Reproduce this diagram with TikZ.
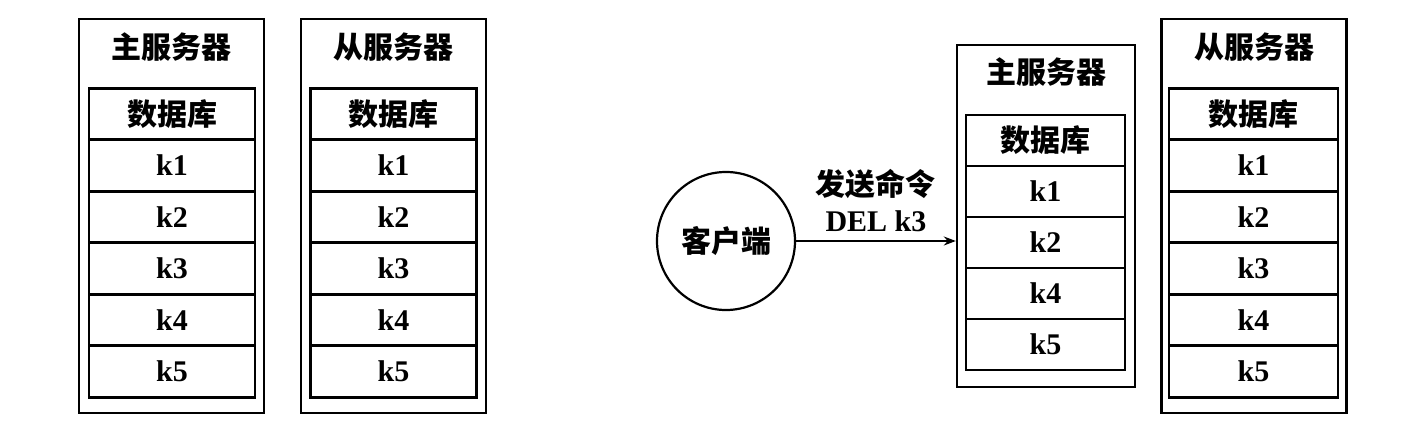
\documentclass[tikz,border=0pt]{standalone}
\usepackage{fontspec}
\setmainfont{Liberation Serif}
\newfontfamily\cjk{Noto Sans CJK SC}
\usetikzlibrary{positioning,arrows.meta}

\begin{document}
\begin{tikzpicture}[x=0.5pt,y=-0.5pt,
	server/.style={draw,line width=1.2pt,minimum width=92.5pt,minimum height=197pt,inner sep=0pt},
	title/.style={font=\fontsize{15}{18}\selectfont\cjk\bfseries},
	cell/.style={draw,line width=1.4pt,outer sep=0pt,minimum width=83pt,minimum height=25.75pt,inner sep=0pt,font=\fontsize{15}{18}\selectfont\bfseries},
	dbcell/.style={cell,font=\fontsize{15}{18}\selectfont\cjk\bfseries},
	client/.style={circle,draw,line width=1.1pt,minimum size=69pt,inner sep=0pt,font=\fontsize{15}{18}\selectfont\cjk\bfseries}]
	\useasboundingbox (0,0) rectangle (1404,428);
	% before: master
	\node [server] (m1) at (171.5,216) {};
	\node [title] (m1t) at (171.5,47) {主服务器};
	\node [dbcell] (m1db) at (172,114) {数据库};
	\node [cell,below=0pt of m1db] (m1k1) {k1};
	\node [cell,below=0pt of m1k1] (m1k2) {k2};
	\node [cell,below=0pt of m1k2] (m1k3) {k3};
	\node [cell,below=0pt of m1k3] (m1k4) {k4};
	\node [cell,below=0pt of m1k4] (m1k5) {k5};
	% before: slave
	\node [server] (s1) at (393.5,216) {};
	\node [title] (s1t) at (393.5,47) {从服务器};
	\node [dbcell] (s1db) at (393.5,114) {数据库};
	\node [cell,below=0pt of s1db] (s1k1) {k1};
	\node [cell,below=0pt of s1k1] (s1k2) {k2};
	\node [cell,below=0pt of s1k2] (s1k3) {k3};
	\node [cell,below=0pt of s1k3] (s1k4) {k4};
	\node [cell,below=0pt of s1k4] (s1k5) {k5};
	% after: client sends DEL to master
	\node [client] (c) at (726,241) {客户端};
	\node [server,minimum width=89pt,minimum height=171pt] (m2) at (1046,216) {};
	\node [title] (m2t) at (1046,72) {主服务器};
	\node [dbcell,minimum width=79.5pt,minimum height=25.5pt] (m2db) at (1045.5,140.5) {数据库};
	\node [cell,minimum width=79.5pt,minimum height=25.5pt,below=0pt of m2db] (m2k1) {k1};
	\node [cell,minimum width=79.5pt,minimum height=25.5pt,below=0pt of m2k1] (m2k2) {k2};
	\node [cell,minimum width=79.5pt,minimum height=25.5pt,below=0pt of m2k2] (m2k4) {k4};
	\node [cell,minimum width=79.5pt,minimum height=25.5pt,below=0pt of m2k4] (m2k5) {k5};
	\draw [line width=0.8pt,-{Stealth[length=6pt,width=4.5pt]}] (c) -- (c -| m2.west)
		node [midway,above=1pt,align=center,font=\fontsize{15}{18}\selectfont\bfseries] {{\cjk 发送命令}\\DEL k3};
	% after: slave still has k3
	\node [server] (s2) at (1254,216) {};
	\node [title] (s2t) at (1254,47) {从服务器};
	\node [dbcell,minimum width=84.5pt] (s2db) at (1253.5,114) {数据库};
	\node [cell,minimum width=84.5pt,below=0pt of s2db] (s2k1) {k1};
	\node [cell,minimum width=84.5pt,below=0pt of s2k1] (s2k2) {k2};
	\node [cell,minimum width=84.5pt,below=0pt of s2k2] (s2k3) {k3};
	\node [cell,minimum width=84.5pt,below=0pt of s2k3] (s2k4) {k4};
	\node [cell,minimum width=84.5pt,below=0pt of s2k4] (s2k5) {k5};
\end{tikzpicture}
\end{document}
